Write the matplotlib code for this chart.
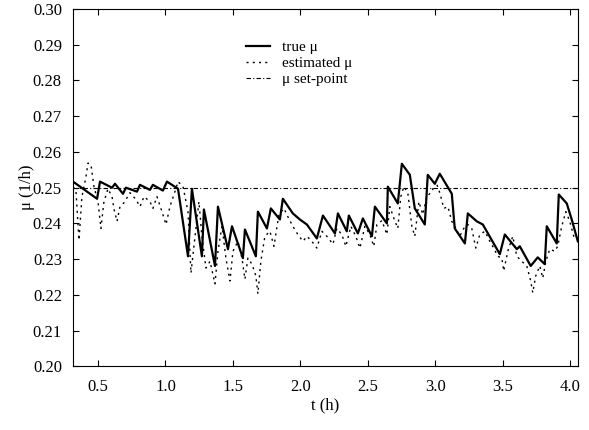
import numpy as np
import matplotlib.pyplot as plt

# true mu (vertices)
t_true = [0.315, 0.493, 0.515, 0.604, 0.626, 0.685, 0.707, 0.789, 0.811, 0.885,
          0.907, 0.981, 1.011, 1.093, 1.167, 1.196, 1.270, 1.285, 1.367, 1.389,
          1.463, 1.493, 1.574, 1.589, 1.670, 1.685, 1.752, 1.781, 1.848, 1.870,
          1.944, 1.996, 2.048, 2.122, 2.167, 2.256, 2.278, 2.344, 2.359, 2.426,
          2.463, 2.530, 2.552, 2.641, 2.648, 2.722, 2.752, 2.811, 2.848, 2.922,
          2.944, 2.996, 3.033, 3.122, 3.144, 3.219, 3.241, 3.307, 3.352, 3.478,
          3.515, 3.604, 3.626, 3.707, 3.759, 3.811, 3.826, 3.900, 3.915, 3.974,
          4.011, 4.056]
mu_true = [0.2517, 0.2469, 0.2517, 0.2500, 0.2511, 0.2483, 0.2500, 0.2489, 0.2508, 0.2494,
           0.2508, 0.2492, 0.2517, 0.2497, 0.2308, 0.2497, 0.2308, 0.2439, 0.2281, 0.2447,
           0.2328, 0.2392, 0.2303, 0.2383, 0.2308, 0.2433, 0.2386, 0.2442, 0.2411, 0.2469,
           0.2428, 0.2411, 0.2397, 0.2358, 0.2422, 0.2372, 0.2428, 0.2378, 0.2422, 0.2372,
           0.2414, 0.2364, 0.2447, 0.2400, 0.2503, 0.2456, 0.2567, 0.2536, 0.2442, 0.2397,
           0.2536, 0.2511, 0.2539, 0.2483, 0.2386, 0.2344, 0.2428, 0.2406, 0.2397, 0.2314,
           0.2369, 0.2328, 0.2336, 0.2281, 0.2305, 0.2286, 0.2392, 0.2344, 0.2481, 0.2456,
           0.2411, 0.2350]

# estimated mu
t_est = [0.315, 0.337, 0.359, 0.381, 0.411, 0.426, 0.448, 0.470, 0.500, 0.522,
         0.544, 0.574, 0.604, 0.619, 0.641, 0.663, 0.693, 0.737, 0.781, 0.811,
         0.841, 0.885, 0.907, 0.937, 0.974, 1.004, 1.033, 1.070, 1.093, 1.130,
         1.167, 1.189, 1.211, 1.248, 1.270, 1.300, 1.330, 1.367, 1.389, 1.419,
         1.448, 1.478, 1.500, 1.537, 1.567, 1.589, 1.611, 1.641, 1.670, 1.685,
         1.707, 1.737, 1.774, 1.804, 1.841, 1.878, 1.907, 1.944, 1.981, 2.019,
         2.048, 2.085, 2.122, 2.159, 2.196, 2.241, 2.270, 2.307, 2.337, 2.374,
         2.411, 2.441, 2.478, 2.515, 2.544, 2.567, 2.604, 2.641, 2.663, 2.693,
         2.722, 2.744, 2.767, 2.796, 2.826, 2.848, 2.878, 2.907, 2.937, 2.974,
         3.004, 3.033, 3.063, 3.093, 3.122, 3.152, 3.181, 3.219, 3.241, 3.270,
         3.300, 3.330, 3.367, 3.404, 3.433, 3.463, 3.493, 3.507, 3.537, 3.574,
         3.604, 3.641, 3.678, 3.707, 3.722, 3.744, 3.774, 3.796, 3.819, 3.848,
         3.885, 3.907, 3.937, 3.967, 3.996, 4.026, 4.056]
mu_est = [0.2503, 0.2489, 0.2353, 0.2475, 0.2531, 0.2569, 0.2564, 0.2503, 0.2461, 0.2386,
          0.2461, 0.2497, 0.2475, 0.2439, 0.2406, 0.2447, 0.2458, 0.2486, 0.2467, 0.2447,
          0.2475, 0.2461, 0.2442, 0.2475, 0.2433, 0.2397, 0.2447, 0.2489, 0.2517, 0.2503,
          0.2433, 0.2261, 0.2336, 0.2461, 0.2364, 0.2275, 0.2294, 0.2231, 0.2322, 0.2392,
          0.2303, 0.2239, 0.2322, 0.2350, 0.2303, 0.2244, 0.2303, 0.2286, 0.2253, 0.2203,
          0.2294, 0.2364, 0.2378, 0.2336, 0.2425, 0.2442, 0.2419, 0.2392, 0.2369, 0.2350,
          0.2364, 0.2350, 0.2331, 0.2378, 0.2364, 0.2342, 0.2386, 0.2369, 0.2336, 0.2392,
          0.2364, 0.2331, 0.2392, 0.2369, 0.2336, 0.2397, 0.2408, 0.2369, 0.2447, 0.2414,
          0.2386, 0.2475, 0.2503, 0.2486, 0.2392, 0.2364, 0.2461, 0.2425, 0.2475, 0.2489,
          0.2517, 0.2486, 0.2442, 0.2447, 0.2406, 0.2386, 0.2364, 0.2392, 0.2397, 0.2386,
          0.2331, 0.2369, 0.2378, 0.2350, 0.2331, 0.2308, 0.2303, 0.2267, 0.2322, 0.2364,
          0.2308, 0.2294, 0.2281, 0.2239, 0.2206, 0.2253, 0.2281, 0.2247, 0.2294, 0.2328,
          0.2322, 0.2336, 0.2392, 0.2433, 0.2406, 0.2364, 0.2369]

setpoint = 0.25
xticks = [0.5, 1.0, 1.5, 2.0, 2.5, 3.0, 3.5, 4.0]
yticks = [0.20, 0.21, 0.22, 0.23, 0.24, 0.25, 0.26, 0.27, 0.28, 0.29, 0.30]

plt.rcParams['font.family'] = 'Liberation Serif'

fig = plt.figure(figsize=(5.89, 4.30), dpi=100)
ax = fig.add_axes([0.124, 0.148, 0.857, 0.831])

ax.plot(t_true, mu_true, color='black', lw=1.6, label='true \u03bc')
ax.plot(t_est, mu_est, color='black', lw=1.0, ls=(0, (1.5, 3)), label='estimated \u03bc')
ax.plot([0.315, 4.056], [setpoint, setpoint], color='black', lw=0.8,
        ls=(0, (4, 2, 1, 2)), label='\u03bc set-point')

ax.set_xlim(0.315, 4.056)
ax.set_ylim(0.20, 0.30)
ax.set_xticks(xticks)
ax.set_xticklabels([f'{v:.1f}' for v in xticks])
ax.set_yticks(yticks)
ax.set_yticklabels([f'{v:.2f}' for v in yticks])
ax.tick_params(direction='in', top=True, right=True, length=4, labelsize=12)
ax.tick_params(axis='x', pad=9)
ax.tick_params(axis='y', pad=8)
ax.set_xlabel('t (h)', fontsize=12, labelpad=2)
ax.set_ylabel('\u03bc (1/h)', fontsize=12)
ax.yaxis.set_label_coords(-0.076, 0.5)

ax.legend(loc='upper left', bbox_to_anchor=(0.315, 0.95), frameon=False,
          handlelength=1.6, fontsize=11, labelspacing=0.15)

fig.savefig('out.png', dpi=100)
